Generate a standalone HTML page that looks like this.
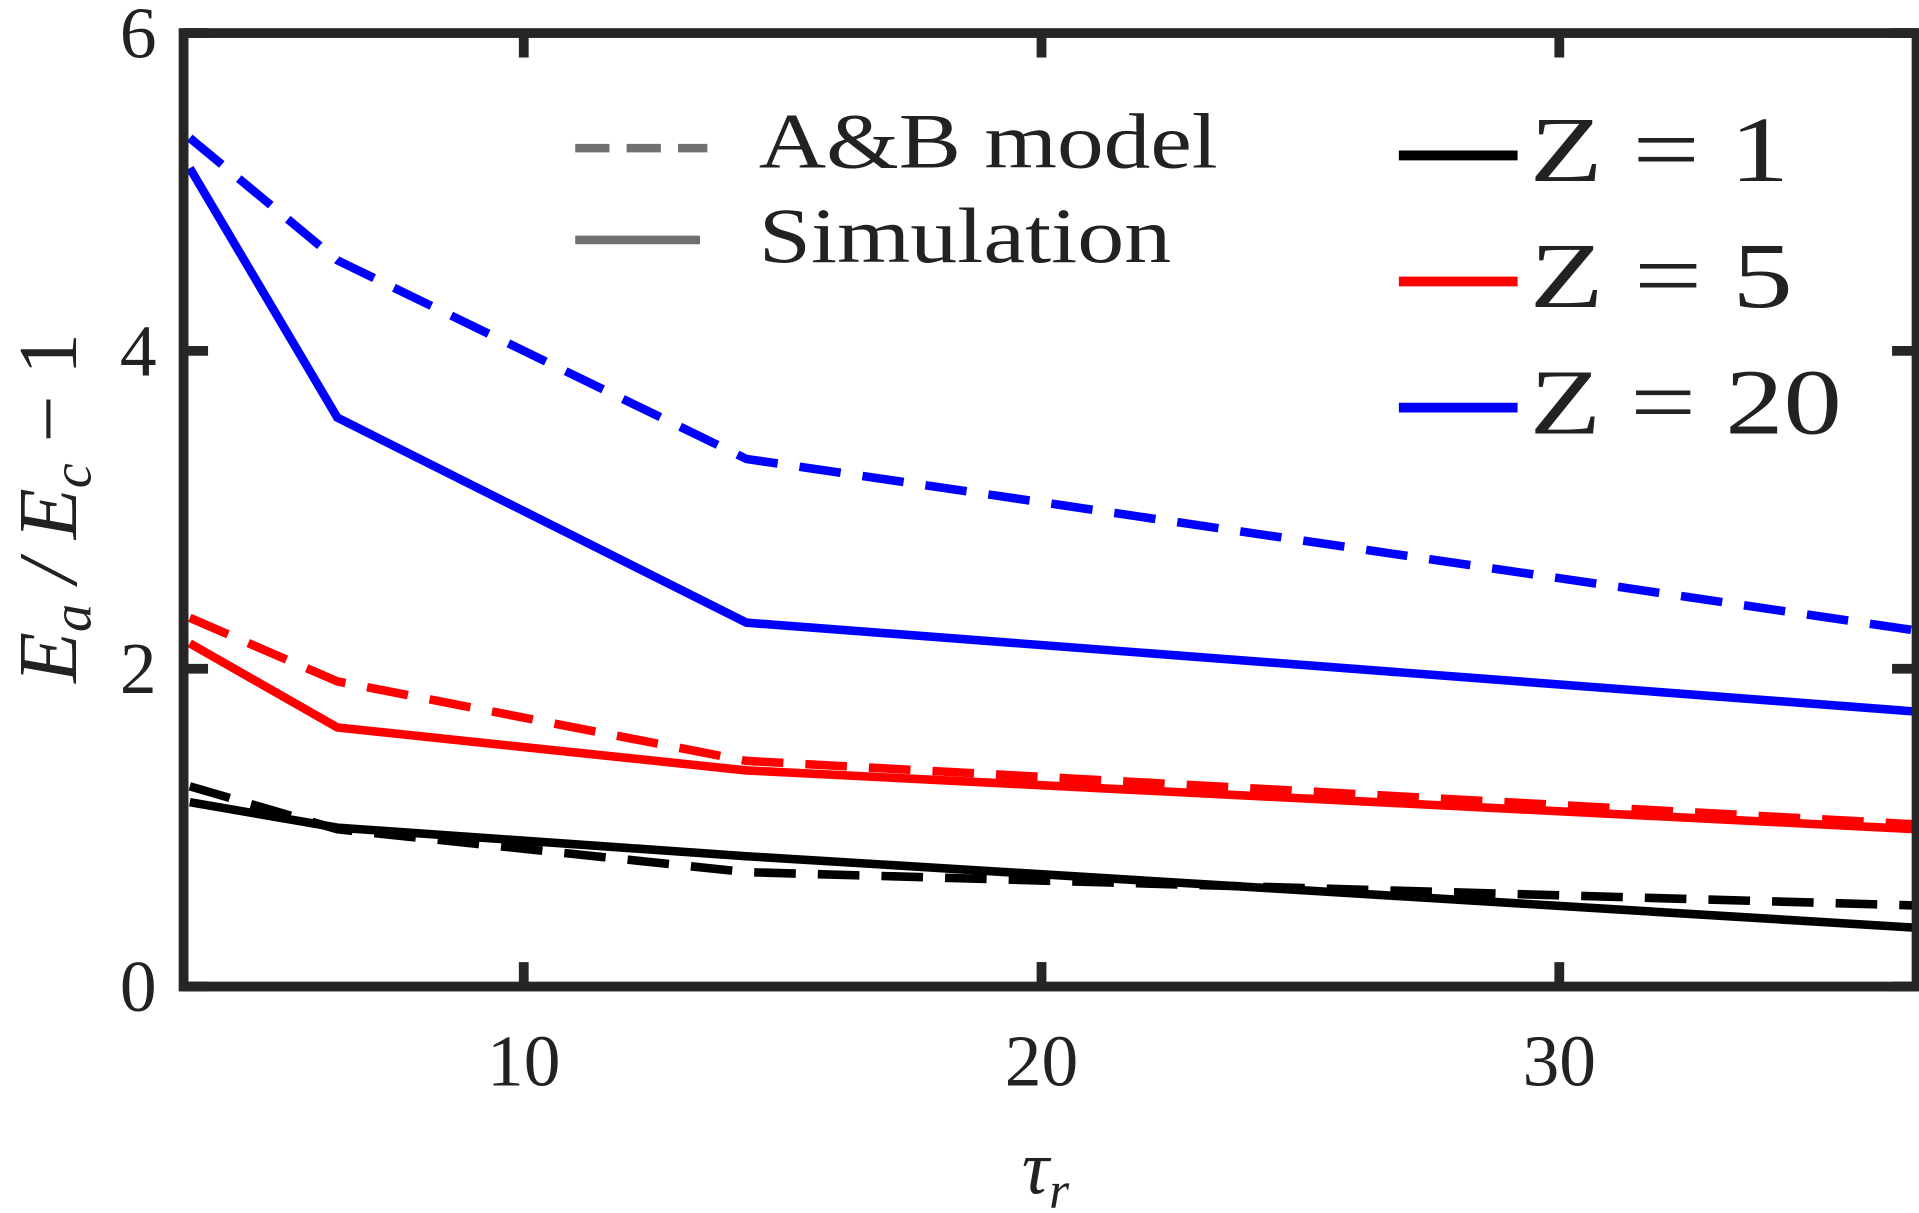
<!DOCTYPE html>
<html><head><meta charset="utf-8"><style>
html,body{margin:0;padding:0;background:#fff;}
svg{display:block;}
text{font-family:"Liberation Serif",serif;fill:#222;}
</style></head><body>
<svg id="chart" width="1919" height="1213" viewBox="0 0 1568 991" preserveAspectRatio="none" xmlns="http://www.w3.org/2000/svg">
<g id="ticks"></g>
<g id="series"></g>
<rect x="150" y="27" width="1416" height="779" fill="none" stroke="#262626" stroke-width="8"/>
<g>
<line x1="470" y1="121" x2="578" y2="121" stroke="#707070" stroke-width="7" stroke-dasharray="28 14"/>
<text x="620" y="137" font-size="64" textLength="375" lengthAdjust="spacingAndGlyphs">A&amp;B model</text>
<line x1="470" y1="196" x2="572" y2="196" stroke="#707070" stroke-width="7"/>
<text x="620" y="214" font-size="64" textLength="337" lengthAdjust="spacingAndGlyphs">Simulation</text>
</g>
<g>
<line x1="1143" y1="127" x2="1240" y2="127" stroke="#000" stroke-width="8"/>
<text x="1250" y="148" font-size="76" textLength="212" lengthAdjust="spacingAndGlyphs">Z = 1</text>
<line x1="1143" y1="230" x2="1240" y2="230" stroke="#f00" stroke-width="8"/>
<text x="1250" y="251" font-size="76" textLength="215" lengthAdjust="spacingAndGlyphs">Z = 5</text>
<line x1="1143" y1="333" x2="1240" y2="333" stroke="#00f" stroke-width="8"/>
<text x="1250" y="354" font-size="76" textLength="255" lengthAdjust="spacingAndGlyphs">Z = 20</text>
</g>
<text x="835" y="975" font-size="62" font-style="italic">τ<tspan font-size="42" dy="12">r</tspan></text>
<text transform="translate(62,415) rotate(-90)" text-anchor="middle" font-size="68" font-style="italic">E<tspan font-size="46" dy="12">a</tspan><tspan dy="-12"> / E</tspan><tspan font-size="46" dy="12">c</tspan><tspan dy="-12" font-style="normal"> − 1</tspan></text>
</svg>
<script>
const xTicks=[10,20,30];
const yTicks=[0,2,4,6];
const tauValues=[3.55,6.4,14.3,36.9];
const simZ1=[1.16,1.00,0.82,0.37];
const modelZ1=[1.26,0.99,0.72,0.51];
const simZ5=[2.16,1.63,1.36,0.99];
const modelZ5=[2.32,1.92,1.42,1.02];
const simZ20=[5.15,3.58,2.29,1.73];
const modelZ20=[5.34,4.57,3.32,2.24];
const X0=150,X1=1566,Y0=806,Y1=27,xmin=3.43,xmax=36.9,ymin=0,ymax=6;
const sx=v=>X0+(v-xmin)/(xmax-xmin)*(X1-X0);
const sy=v=>Y0-(v-ymin)/(ymax-ymin)*(Y0-Y1);
const NS="http://www.w3.org/2000/svg";
const tg=document.getElementById('ticks');
xTicks.forEach(t=>{
  const x=sx(t);
  [[Y0,Y0-20],[Y1,Y1+20]].forEach(p=>{
    const l=document.createElementNS(NS,'line');
    
    
    l.setAttribute('x1',x);l.setAttribute('x2',x);l.setAttribute('y1',p[0]);l.setAttribute('y2',p[1]);
    l.setAttribute('stroke','#262626');l.setAttribute('stroke-width','8');tg.appendChild(l);});
  const tx=document.createElementNS(NS,'text');
  
  
  tx.setAttribute('x',x);tx.setAttribute('y',887);tx.setAttribute('text-anchor','middle');tx.setAttribute('font-size','60');
  tx.textContent=t;tg.appendChild(tx);
});
yTicks.forEach(t=>{
  const y=sy(t);
  [[X0,X0+20],[X1,X1-20]].forEach(p=>{
    const l=document.createElementNS(NS,'line');
    
    
    l.setAttribute('x1',p[0]);l.setAttribute('x2',p[1]);l.setAttribute('y1',y);l.setAttribute('y2',y);
    l.setAttribute('stroke','#262626');l.setAttribute('stroke-width','8');tg.appendChild(l);});
  const tx=document.createElementNS(NS,'text');
  
  
  tx.setAttribute('x',128);tx.setAttribute('y',y+20);tx.setAttribute('text-anchor','end');tx.setAttribute('font-size','60');
  tx.textContent=t;tg.appendChild(tx);
});
const sg=document.getElementById('series');
function line(vals,color,dashed,name){
  const p=document.createElementNS(NS,'polyline');
  
  
  p.setAttribute('points',vals.map((v,i)=>sx(tauValues[i])+','+sy(v)).join(' '));
  p.setAttribute('fill','none');p.setAttribute('stroke',color);p.setAttribute('stroke-width','7');
  if(dashed)p.setAttribute('stroke-dasharray','34 18');
  sg.appendChild(p);
}
line(modelZ20,'#00f',true,'model-z20-line');
line(simZ20,'#00f',false,'sim-z20-line');
line(modelZ5,'#f00',true,'model-z5-line');
line(simZ5,'#f00',false,'sim-z5-line');
line(modelZ1,'#000',true,'model-z1-line');
line(simZ1,'#000',false,'sim-z1-line');
</script>
</body></html>
